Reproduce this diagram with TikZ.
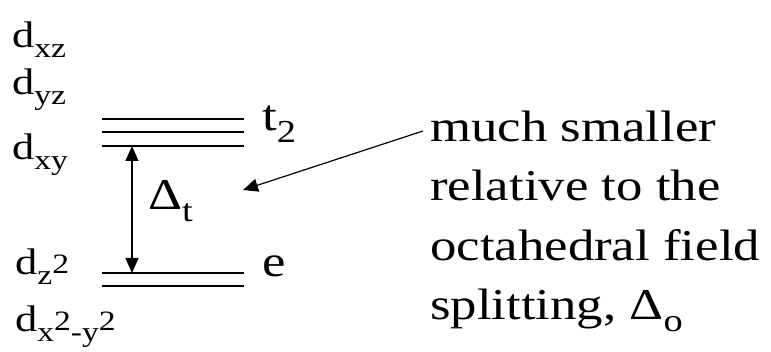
\documentclass[tikz,border=0pt]{standalone}
\usepackage{fontspec}
\setmainfont{Liberation Serif}
\usepackage{tikz}
\usetikzlibrary{arrows.meta,positioning,calc}
\definecolor{ink}{HTML}{000000}
% wide text, as the slide was stretched sideways
\newcommand{\wide}[1]{\scalebox{1.2}[1]{#1}}
\newcommand{\lo}[2][28]{\raisebox{-0.26em}{\fontsize{#1}{#1}\selectfont #2}}
\newcommand{\hi}[2][28]{\raisebox{0.38em}{\fontsize{#1}{#1}\selectfont #2}}
\tikzset{
  orbital/.style={anchor=base west,inner sep=0pt,font=\fontsize{37}{37}\selectfont,text=ink},
  tag/.style={anchor=base west,inner sep=0pt,font=\fontsize{44}{44}\selectfont,text=ink},
  level/.style={draw=ink,line width=1.2pt},
  gaparr/.style={{Triangle[length=15pt,width=13pt]}-{Triangle[length=15pt,width=13pt]},line width=1.2pt,draw=ink},
  notearr/.style={-{Triangle[length=15pt,width=13pt]},line width=1.2pt,draw=ink}
}

\begin{document}
\begin{tikzpicture}[x=1pt,y=-1pt]
  \useasboundingbox (0,0) rectangle (771,352);

  % d orbital names
  \node[orbital] (dxz) at (12,48)  {\wide{d\lo{xz}}};
  \node[orbital] (dyz) at (12,95)  {\wide{d\lo{yz}}};
  \node[orbital] (dxy) at (12,160) {\wide{d\lo{xy}}};
  \node[orbital] (dz)  at (15,275) {\wide{d\lo{z\hi{2}}}};
  \node[orbital] (dx)  at (15,332) {\wide{d\lo{x\hi{2}-y\hi{2}}}};

  % t2 levels
  \foreach \y/\n in {119/ta,132/tb,146/tc}
    \draw[level] (102,\y) coordinate (\n l) -- (244,\y) coordinate (\n r);
  % e levels
  \foreach \y/\n in {273/ea,286/eb}
    \draw[level] (102,\y) coordinate (\n l) -- (244,\y) coordinate (\n r);

  \node[tag] (t2) at (262,131) {\wide{t\lo[32]{2}}};
  \node[tag] (e)  at (262,277) {\wide{e}};

  % splitting
  \coordinate (gtop) at ($(tcl)!0.211!(tcr)$);
  \coordinate (gbot) at ($(eal)!0.211!(ear)$);
  \draw[gaparr] (gtop) -- (gbot);
  \node[tag] (dt) at (148,210) {\wide{Δ\lo[32]{t}}};

  % Note
  \node[tag,align=left,anchor=base west,
        font=\fontsize{44}{59.5}\selectfont] (note) at (430,320)
    {\wide{much smaller}\\\wide{relative to the}\\\wide{octahedral field}\\\wide{splitting, Δ\lo[32]{o}}};
  \coordinate (tip) at (243,190);
  \draw[notearr] (423,131) -- (tip);
\end{tikzpicture}
\end{document}
